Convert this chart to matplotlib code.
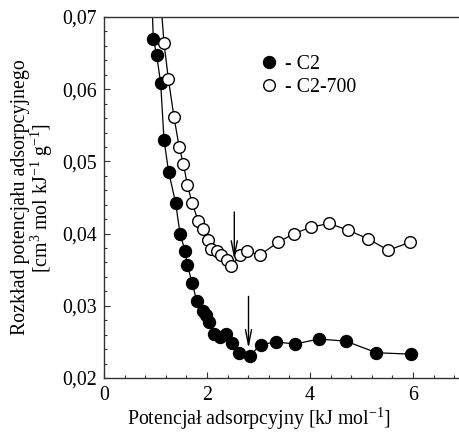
import matplotlib
matplotlib.use("Agg")
import matplotlib.pyplot as plt
from matplotlib.ticker import MultipleLocator, FuncFormatter

plt.rcParams['font.family'] = ['Liberation Serif', 'DejaVu Serif']
plt.rcParams['mathtext.fontset'] = 'custom'
plt.rcParams['mathtext.rm'] = 'Liberation Serif'
plt.rcParams['mathtext.it'] = 'Liberation Serif:italic'
plt.rcParams['mathtext.bf'] = 'Liberation Serif:bold'

# C2 (filled circles)
c2_x = [0.957, 1.02, 1.10, 1.165, 1.256, 1.39, 1.476, 1.573, 1.62, 1.71, 1.80,
        1.915, 1.98, 2.03, 2.14, 2.25, 2.37, 2.48, 2.62, 2.835, 3.04, 3.34,
        3.71, 4.17, 4.70, 5.29, 5.96]
c2_y = [0.0670, 0.0648, 0.0609, 0.0530, 0.0485, 0.0443, 0.0400, 0.0376, 0.0356,
        0.0332, 0.0307, 0.0293, 0.0287, 0.0278, 0.0261, 0.0257, 0.0261, 0.0248,
        0.0235, 0.0231, 0.0246, 0.0250, 0.0247, 0.0254, 0.0251, 0.0235, 0.0233]
# line continues above the top of the plot
c2_lead_x = [0.93]
c2_lead_y = [0.0725]

# C2-700 (open circles)
c2700_x = [1.165, 1.25, 1.36, 1.46, 1.54, 1.62, 1.71, 1.83, 1.915, 2.01, 2.08,
           2.19, 2.28, 2.38, 2.47, 2.65, 2.78, 3.02, 3.38, 3.69, 4.02, 4.37,
           4.73, 5.12, 5.52, 5.94]
c2700_y = [0.0664, 0.0614, 0.0561, 0.0520, 0.0497, 0.0467, 0.0443, 0.0417,
           0.0407, 0.0391, 0.0379, 0.0376, 0.0371, 0.0364, 0.0355, 0.0371,
           0.0376, 0.0370, 0.0388, 0.0400, 0.0409, 0.0414, 0.0405, 0.0393,
           0.0377, 0.0388]
c2700_lead_x = [1.10]
c2700_lead_y = [0.0725]

# arrows marking minima: (x, y_start, y_end)
arrow_c2700 = (2.53, 0.0430, 0.0364)
arrow_c2 = (2.806, 0.0313, 0.0241)

labels = ['- C2', '- C2-700']
x_ticks = [0, 2, 4, 6]
y_ticks = [0.02, 0.03, 0.04, 0.05, 0.06, 0.07]

FS = 14.3

fig = plt.figure(figsize=(4.6, 4.33), dpi=100)
ax = fig.add_axes([104/460, 55/433, 7*51.5/460, 361/433])

ax.plot(c2_lead_x + c2_x, c2_lead_y + c2_y, '-', color='black', lw=0.9, zorder=2)
ax.plot(c2700_lead_x + c2700_x, c2700_lead_y + c2700_y, '-', color='black', lw=0.9, zorder=2)
h1, = ax.plot(c2_x, c2_y, 'o', color='black', mfc='black', mec='black',
              ms=8.6, mew=1.0, zorder=3, label=labels[0])
h2, = ax.plot(c2700_x, c2700_y, 'o', color='black', mfc='white', mec='black',
              ms=8.4, mew=1.0, zorder=4, label=labels[1])

for (ax_x, y0, y1) in [arrow_c2700, arrow_c2]:
    ax.annotate('', xy=(ax_x, y1), xytext=(ax_x, y0),
                arrowprops=dict(arrowstyle='->,head_length=1.1,head_width=0.22',
                                color='black', lw=1.0, shrinkA=0, shrinkB=0),
                zorder=5)

ax.set_xlim(0, 7)
ax.set_ylim(0.02, 0.07)
ax.set_xticks(x_ticks)
ax.set_yticks(y_ticks)
ax.xaxis.set_minor_locator(MultipleLocator(0.4))
ax.yaxis.set_minor_locator(MultipleLocator(0.002))
ax.yaxis.set_major_formatter(FuncFormatter(lambda v, p: f"{v:.2f}".replace('.', ',')))
ax.xaxis.set_major_formatter(FuncFormatter(lambda v, p: f"{v:g}"))
ax.tick_params(which='both', direction='in', top=False, right=False,
               labelsize=FS, color='#333333')
ax.tick_params(which='major', length=4, width=0.8)
ax.tick_params(axis='x', which='major', pad=5.5)
ax.tick_params(axis='y', which='major', pad=5)
ax.tick_params(which='minor', length=2.5, width=0.8)
for s in ['left', 'bottom', 'top']:
    ax.spines[s].set_linewidth(1.0)
    ax.spines[s].set_color('#333333')
ax.spines['right'].set_visible(False)

fig.text(259/460, (433-425)/433, 'Potencjał adsorpcyjny [kJ mol$^{\\mathrm{-1}}$]',
         fontsize=FS, ha='center', va='baseline')
ax.set_ylabel('Rozkład potencjału adsorpcyjnego\n[cm$^{3}$ mol kJ$^{\\mathrm{-1}}$ g$^{\\mathrm{-1}}$]',
              fontsize=FS, labelpad=5, linespacing=0.95)

ax.legend(handles=[h1, h2], loc='upper left', bbox_to_anchor=(0.435, 0.895),
          frameon=False, fontsize=FS, handlelength=0.8, handletextpad=0.4,
          labelspacing=0.2, borderpad=0, borderaxespad=0)

fig.savefig('out.png', dpi=100)
